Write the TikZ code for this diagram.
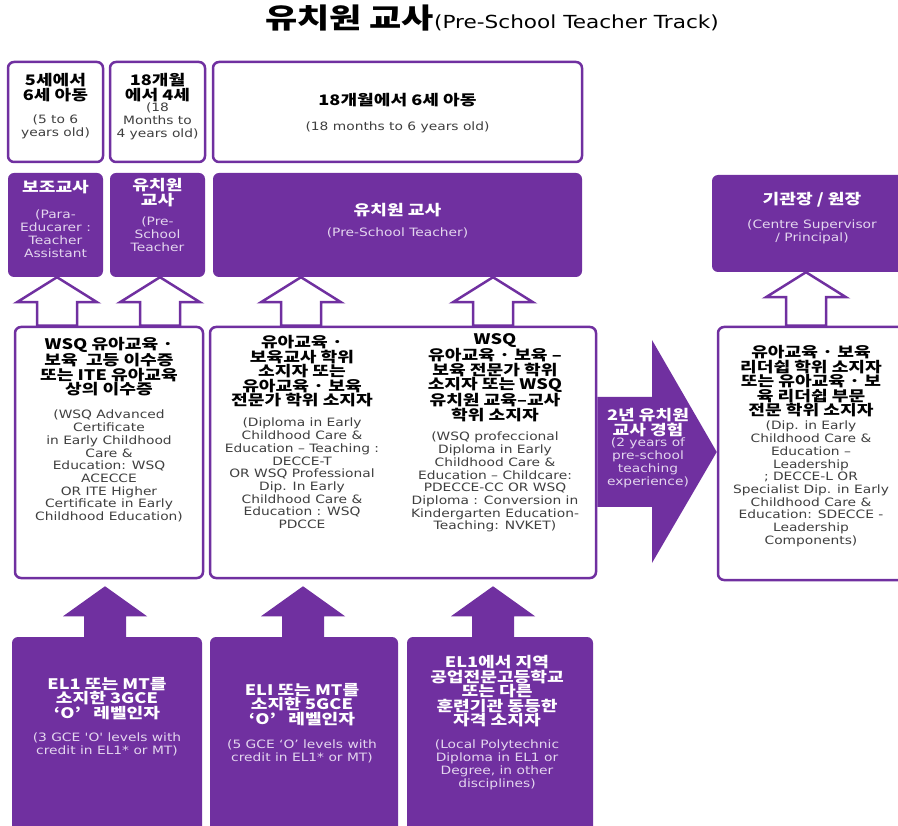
\documentclass[tikz,border=0pt]{standalone}
\usepackage{fontspec}
\setmainfont{DejaVu Sans}
\newfontfamily\krfont[FakeStretch=1.25]{Noto Sans CJK KR}
\newfontfamily\enfont[FakeStretch=1.2]{DejaVu Sans}
\usetikzlibrary{calc}
\definecolor{kpurple}{HTML}{7030A0}
\definecolor{lavender}{HTML}{E4D6EF}
\definecolor{subgray}{HTML}{3F3F3F}
\tikzset{
  agebox/.style={draw=kpurple,line width=2.5,rounded corners=6,fill=white,inner sep=0},
  rolebox/.style={fill=kpurple,rounded corners=6,inner sep=0},
  headtxt/.style={font=\krfont\bfseries\fontsize{14.5}{14.6}\selectfont,align=center,anchor=north,inner sep=0},
  subtxt/.style={font=\enfont\fontsize{11.5}{12.7}\selectfont,text=subgray,align=center,anchor=north,inner sep=0},
  onpurple/.style={text=white},
  sublight/.style={text=lavender},
  hollowarrow/.style={draw=kpurple,line width=2.5,fill=white,line join=miter}
}

\begin{document}
\begin{tikzpicture}[x=1pt,y=-1pt]
      \clip (0,0) rectangle (898,826);
      \node[anchor=north,inner sep=0] (title) at (492,5)
        {{\krfont\bfseries\fontsize{28}{28}\selectfont 유치원 교사}{\enfont\fontsize{18}{18}\selectfont(Pre-School Teacher Track)}};
      % age groups
      \node[agebox,minimum width=95,minimum height=100] (kA) at (55.5,112) {};
      \node[agebox,minimum width=95,minimum height=100] (kB) at (157.5,112) {};
      \node[agebox,minimum width=369,minimum height=100] (kC) at (397.5,112) {};
      \node[headtxt] (kAhead) at (55.5,73) {5세에서\\6세 아동};
      \node[subtxt] (kAsub) at (55.5,115) {(5 to 6\\years old)};
      \node[headtxt] (kBhead) at (157.5,73) {18개월\\에서 4세};
      \node[subtxt] (kBsub) at (157.5,103) {(18\\Months to\\4 years old)};
      \node[headtxt] (kChead) at (397.5,93) {18개월에서 6세 아동};
      \node[subtxt] (kCsub) at (397.5,122) {(18 months to 6 years old)};
      % roles
      \node[rolebox,minimum width=95,minimum height=104] (kD) at (55.5,225) {};
      \node[rolebox,minimum width=95,minimum height=104] (kE) at (157.5,225) {};
      \node[rolebox,minimum width=369,minimum height=104] (kF) at (397.5,225) {};
      \node[rolebox,minimum width=200,minimum height=97] (kG) at (812,223.5) {};
      \node[headtxt,onpurple] (kDhead) at (55.5,180) {보조교사};
      \node[subtxt,sublight] (kDsub) at (55.5,210) {(Para-\\Educarer :\\Teacher\\Assistant};
      \node[headtxt,onpurple] (kEhead) at (157.5,178) {유치원\\교사};
      \node[subtxt,sublight] (kEsub) at (157.5,217) {(Pre-\\School\\Teacher};
      \node[headtxt,onpurple] (kFhead) at (397.5,203) {유치원 교사};
      \node[subtxt,sublight] (kFsub) at (397.5,228) {(Pre-School Teacher)};
      \node[headtxt,onpurple] (kGhead) at (812,192) {기관장 / 원장};
      \node[subtxt,sublight] (kGsub) at (812,220) {(Centre Supervisor\\/ Principal)};
      % qualifications
      \node[agebox,minimum width=188,minimum height=251] (kH) at (109,452.5) {};
      \node[agebox,minimum width=386,minimum height=251] (kI) at (403,452.5) {};
      \node[agebox,minimum width=200,minimum height=253] (kJ) at (818,453.5) {};
      \node[headtxt] (kHhead) at (109,337) {WSQ 유아교육 ·\\보육 \ 고등 이수증\\또는 ITE 유아교육\\상의 이수증};
      \node[subtxt] (kHsub) at (109,410) {(WSQ Advanced\\Certificate\\in Early Childhood\\Care \&\\Education: WSQ\\ACECCE\\OR ITE Higher\\Certificate in Early\\Childhood Education)};
      \node[headtxt] (kIlhead) at (302,335) {유아교육 ·\\보육교사 학위\\소지자 또는\\유아교육 · 보육\\전문가 학위 소지자};
      \node[subtxt] (kIlsub) at (302,418) {(Diploma in Early\\Childhood Care \&\\Education – Teaching :\\DECCE-T\\OR WSQ Professional\\Dip. In Early\\Childhood Care \&\\Education : WSQ\\PDCCE};
      \node[headtxt] (kIrhead) at (495,333) {WSQ\\유아교육 · 보육 –\\보육 전문가 학위\\소지자 또는 WSQ\\유치원 교육–교사\\학위 소지자};
      \node[subtxt] (kIrsub) at (495,432) {(WSQ profeccional\\Diploma in Early\\Childhood Care \&\\Education – Childcare:\\PDECCE-CC OR WSQ\\Diploma : Conversion in\\Kindergarten Education-\\Teaching: NVKET)};
      \node[headtxt] (kJhead) at (811,345) {유아교육 · 보육\\리더쉽 학위 소지자\\또는 유아교육 · 보\\육 리더쉽 부문\\전문 학위 소지자};
      \node[subtxt] (kJsub) at (811,421) {(Dip. in Early\\Childhood Care \&\\Education –\\Leadership\\; DECCE-L OR\\Specialist Dip. in Early\\Childhood Care \&\\Education: SDECCE -\\Leadership\\Components)};
      % entry requirements
      \node[rolebox,minimum width=190,minimum height=213] (kK) at (107,743.5) {};
      \node[rolebox,minimum width=188,minimum height=213] (kL) at (304,743.5) {};
      \node[rolebox,minimum width=186,minimum height=213] (kM) at (500,743.5) {};
      \node[headtxt,onpurple] (kKhead) at (107,677) {EL1 또는 MT를\\소지한 3GCE\\‘O’ \ \ 레벨인자};
      \node[subtxt,sublight] (kKsub) at (107,733) {(3 GCE 'O' levels with\\credit in EL1* or MT)};
      \node[headtxt,onpurple] (kLhead) at (302,683) {ELI 또는 MT를\\소지한 5GCE\\‘O’ \ \ 레벨인자};
      \node[subtxt,sublight] (kLsub) at (302,740) {(5 GCE ‘O’ levels with\\credit in EL1* or MT)};
      \node[headtxt,onpurple] (kMhead) at (497,655) {EL1에서 지역\\공업전문고등학교\\또는 다른\\훈련기관 동등한\\자격 소지자};
      \node[subtxt,sublight] (kMsub) at (497,740) {(Local Polytechnic\\Diploma in EL1 or\\Degree, in other\\disciplines)};
      %
      \foreach \ax/\up/\lo in {57/kD/kH,160/kE/kH,301/kF/kI,493/kF/kI,806/kG/kJ}
        \draw[hollowarrow] (\ax,0 |- \up.south) -- ++(40,25) -- ++(-20,0)
          -- ({\ax+20},0 |- \lo.north) -- ({\ax-20},0 |- \lo.north)
          -- ($({\ax-20},0 |- \up.south)+(0,25)$) -- ++(-20,0) -- cycle;
      \foreach \ax/\lo in {105/kK,303/kL,493/kM}
        \fill[kpurple] ($(\ax,0 |- kI.south)+(0,7)$) -- ++(42,30) -- ++(-21,0)
          -- ({\ax+21},0 |- \lo.north) -- ({\ax-21},0 |- \lo.north)
          -- ($(\ax,0 |- kI.south)+(-21,37)$) -- ++(-21,0) -- cycle;
      %
      \fill[kpurple] (kI.east |- 0,397) -- (652,397) -- (652,340) -- (kJ.west |- 0,452)
        -- (652,563) -- (652,507) -- (kI.east |- 0,507) -- cycle;
      \node[headtxt,onpurple] (kExp) at (648,408) {2년 유치원\\교사 경험};
      \node[subtxt,sublight] (kExpsub) at (648,438) {(2 years of\\pre-school\\teaching\\experience)};
\end{tikzpicture}
\end{document}
